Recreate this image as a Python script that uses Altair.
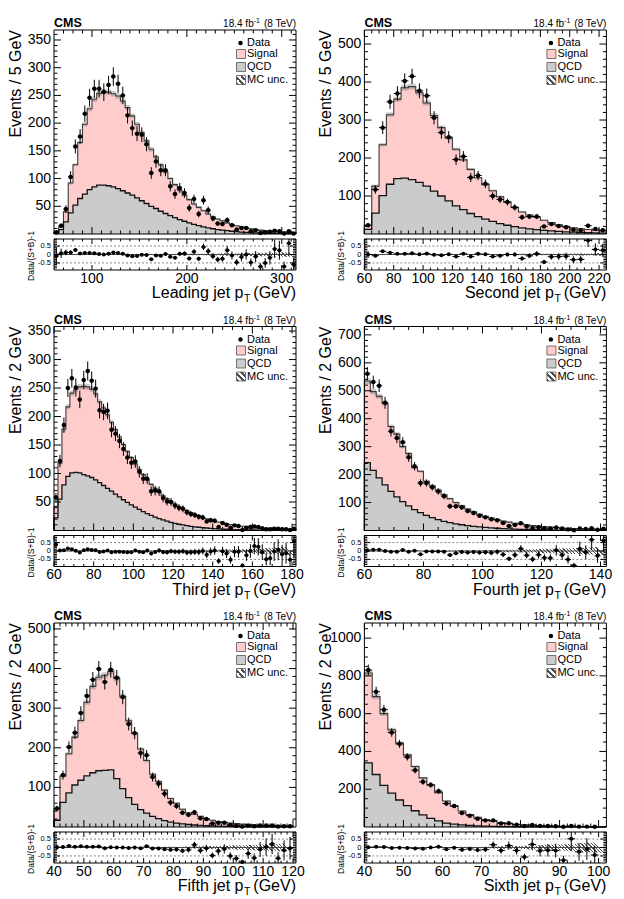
import altair as alt
import numpy as np
import pandas as pd

FONT = "Liberation Sans"
PINK = "#ffcccc"
GREY = "#cbcbcb"
INK = "#000000"

PW = 242            # pad width
MH = 204            # height of the distribution pad
RT, RB = 209, 240   # top / bottom of the ratio pad
RLIM = 0.92         # ratio pad spans [-RLIM, RLIM]

ONE = pd.DataFrame({"a": [0]})

# ---------------- leading jet (5 GeV bins from 60) ----------------
LEAD_TOTAL = [3.3, 14, 40, 92, 125, 165, 198, 226, 243, 254, 257, 256, 253, 249, 240, 228, 213, 198, 183, 168,
              153, 139, 125, 112, 100, 89, 79, 70, 62, 54, 48, 42, 36, 31, 27, 24, 20, 17, 15, 13,
              11, 9.5, 8, 7, 6, 5, 4.5, 4, 3.5, 3, 2.5]
LEAD_QCD = [1.5, 8, 22, 38, 52, 64, 72, 80, 85, 88, 88, 87, 85, 82, 78, 74, 70, 65, 60, 55,
            50, 46, 41, 37, 33, 29.5, 26, 23, 20, 17.5, 15, 13, 11, 9.5, 8, 7, 6, 5, 4.2, 3.5,
            3, 2.5, 2, 1.8, 1.5, 1.3, 1.1, 1, 0.9, 0.8, 0.7]
LEAD_DATA = [3, 15, 45, 103, 158, 176, 217, 246, 262, 262, 256, 269, 284, 271, 250, 214, 191, 181, 179, 162,
             110, 131, 115, 115, 86, 72, 83, 74, 47, 63, 36, 61, 43, 28, 19, 18, 25, 16, 8, 11,
             11, 5, 7, 2, 3, 4, 6, 5, 1, 5, 1]
LEAD_UNC = [0.06, 0.04, 0.03, 0.03, 0.02, 0.02, 0.02, 0.02, 0.02, 0.02, 0.02, 0.02, 0.02, 0.02, 0.02, 0.02,
            0.02, 0.02, 0.02, 0.02, 0.03, 0.03, 0.03, 0.03, 0.03, 0.03, 0.04, 0.04, 0.04, 0.05, 0.05, 0.05,
            0.06, 0.06, 0.06, 0.07, 0.07, 0.08, 0.08, 0.08, 0.09, 0.09, 0.10, 0.10, 0.11, 0.11, 0.12, 0.12,
            0.13, 0.14, 0.15]

# ---------------- second jet (5 GeV bins from 60) ----------------
SEC_TOTAL = [23, 126, 235, 314, 355, 385, 388, 372, 345, 312, 280, 253, 223, 195, 170, 148, 130, 114, 98, 84,
             70, 58, 50, 44, 36, 30, 24, 20, 16, 14, 12, 10, 8]
SEC_QCD = [12, 55, 101, 131, 146, 147, 143, 136, 126, 113, 100, 87, 74, 64, 54, 46, 39, 33, 27.5, 23,
           19.5, 16, 13.5, 11.5, 9.5, 8, 6.7, 5.6, 4.7, 4, 3.3, 2.8, 2.3]
SEC_DATA = [23, 117, 280, 348, 370, 403, 415, 377, 364, 306, 267, 255, 196, 204, 149, 154, 132, 100, 91, 84,
            70, 44, 46, 46, 20, 26, 21, 18, 11, 10, 22, 13, 10]
SEC_UNC = [0.05, 0.03, 0.02, 0.02, 0.02, 0.02, 0.02, 0.02, 0.02, 0.02, 0.02, 0.02, 0.02, 0.02, 0.02, 0.02,
           0.03, 0.03, 0.03, 0.03, 0.03, 0.04, 0.04, 0.04, 0.04, 0.05, 0.05, 0.05, 0.06, 0.06, 0.06, 0.07, 0.07]

# ---------------- third jet (2 GeV bins from 60) ----------------
THIRD_TOTAL = [42, 118, 178, 217, 241, 248, 252, 253, 252, 248, 240, 226, 215, 203, 190, 177, 164, 151, 139, 128,
               117, 107, 98, 89, 81, 74, 67, 61, 55.5, 50.5, 46, 42, 38.5, 35, 31.5, 28.5, 25.5, 23, 20.5, 18.5,
               16.5, 14.8, 13.2, 11.8, 10.5, 9.4, 8.4, 7.5, 6.7, 6, 5.4, 4.8, 4.3, 3.9, 3.5, 3.1, 2.8, 2.5, 2.3, 2.1,
               1.9]
THIRD_QCD = [22, 55, 80, 95, 101, 102, 101, 98, 96, 93, 89, 84, 79, 74, 69, 64, 59, 54, 49.5, 45,
             41, 37, 33, 29.5, 26.5, 23.5, 21, 18.5, 16.3, 14.3, 12.6, 11, 9.7, 8.5, 7.4, 6.5, 5.7, 5, 4.4, 3.8,
             3.3, 2.9, 2.5, 2.2, 1.9, 1.7, 1.5, 1.3, 1.1, 1, 0.9, 0.8, 0.7, 0.6, 0.55, 0.5, 0.45, 0.4, 0.35, 0.3,
             0.3]
THIRD_DATA = [58, 122, 185, 250, 267, 251, 230, 264, 280, 263, 249, 211, 208, 210, 177, 170, 157, 143, 128, 119,
              121, 103, 91, 91, 69, 70, 69, 57, 51, 50, 44, 40, 38, 32, 29, 27, 24, 23, 16, 18,
              17, 6, 13, 10, 5, 9, 8, 1, 5, 6, 7, 6, 4, 2, 2, 3, 3, 2, 2, 1,
              3]
THIRD_UNC = [0.05, 0.03, 0.03, 0.02, 0.02, 0.02, 0.02, 0.02, 0.02, 0.02, 0.02, 0.02, 0.02, 0.02, 0.02, 0.02,
             0.02, 0.02, 0.02, 0.02, 0.03, 0.03, 0.03, 0.03, 0.03, 0.03, 0.03, 0.03, 0.04, 0.04, 0.04, 0.04,
             0.05, 0.05, 0.05, 0.06, 0.06, 0.06, 0.07, 0.07, 0.08, 0.08, 0.09, 0.09, 0.10, 0.10, 0.11, 0.11,
             0.12, 0.13, 0.14, 0.15, 0.16, 0.17, 0.18, 0.19, 0.20, 0.22, 0.24, 0.26, 0.28]

# ---------------- fourth jet (2 GeV bins from 60) ----------------
FOURTH_TOTAL = [535, 497, 480, 455, 372, 345, 300, 275, 225, 212, 176, 160, 145, 128, 114, 100, 88, 77, 67, 58,
                51, 45, 39, 34, 30, 26, 23, 20, 17.5, 15.5, 13.5, 12, 10.5, 9.2, 8, 7, 6.2, 5.4, 4.8, 4.2,
                3.7]
FOURTH_QCD = [243, 215, 188, 163, 140, 120, 103, 88, 75, 64, 54, 46, 39, 33, 28, 24, 20.5, 17.5, 15, 12.8,
              11, 9.4, 8, 6.8, 5.8, 5, 4.3, 3.7, 3.2, 2.7, 2.3, 2, 1.7, 1.5, 1.3, 1.1, 1, 0.9, 0.8, 0.7,
              0.6]
FOURTH_DATA = [561, 531, 518, 457, 355, 331, 316, 262, 230, 170, 170, 155, 140, 123, 87, 87, 83, 70, 63, 53,
               47, 40, 37, 27, 16, 20, 26, 15, 9, 12, 8, 7, 11, 7, 4, 1, 7, 5, 8, 3,
               6]
FOURTH_UNC = [0.02, 0.02, 0.02, 0.02, 0.02, 0.02, 0.02, 0.02, 0.02, 0.02, 0.03, 0.03, 0.03, 0.03, 0.03, 0.04,
              0.04, 0.04, 0.05, 0.05, 0.05, 0.06, 0.06, 0.07, 0.07, 0.08, 0.09, 0.10, 0.11, 0.12, 0.13, 0.14,
              0.15, 0.16, 0.17, 0.18, 0.19, 0.20, 0.22, 0.24, 0.26]

# ---------------- fifth jet (2 GeV bins from 40) ----------------
FIFTH_TOTAL = [46, 128, 185, 227, 269, 315, 355, 378, 383, 393, 375, 330, 268, 236, 197, 168, 133, 115, 93, 72,
               60, 45, 36, 32, 27, 21, 17, 14, 12, 10, 8.5, 7.2, 6.2, 5.3, 4.5, 3.9, 3.3, 2.8, 2.4, 2.1]
FIFTH_QCD = [17, 62, 86, 106, 118, 129, 137, 142, 143, 144, 122, 97, 74, 57, 44, 35, 27, 21, 16, 12.5,
             10, 8, 6.3, 5, 4, 3.2, 2.6, 2.1, 1.7, 1.4, 1.1, 0.9, 0.75, 0.6, 0.5, 0.4, 0.35, 0.3, 0.25, 0.2]
FIFTH_DATA = [47, 131, 202, 238, 288, 331, 372, 399, 366, 397, 377, 328, 260, 237, 187, 181, 126, 109, 84, 62,
              53, 36, 31, 37, 22, 20, 9, 11, 11, 5, 3, 1, 4, 2, 4, 4, 4, 1, 2, 2]
FIFTH_UNC = [0.03, 0.02, 0.02, 0.02, 0.02, 0.02, 0.02, 0.02, 0.02, 0.02, 0.02, 0.02, 0.02, 0.02, 0.02, 0.03,
             0.03, 0.03, 0.04, 0.04, 0.05, 0.05, 0.06, 0.06, 0.07, 0.08, 0.09, 0.10, 0.11, 0.12, 0.13, 0.14,
             0.15, 0.16, 0.18, 0.20, 0.21, 0.22, 0.24, 0.26]

# ---------------- sixth jet (2 GeV bins from 40) ----------------
SIXTH_TOTAL = [815, 690, 600, 515, 445, 382, 320, 260, 222, 182, 138, 112, 85, 66, 52, 40, 30, 23, 18, 14.5,
               11.5, 9.3, 7.5, 6, 4.9, 4, 3.3, 2.7, 2.2, 1.8, 1.5]
SIXTH_QCD = [340, 278, 220, 179, 143, 113, 86, 64, 46, 32, 21, 15, 11, 8, 5.8, 4.2, 3.1, 2.3, 1.7, 1.3,
             1, 0.8, 0.6, 0.45, 0.35, 0.28, 0.22, 0.18, 0.14, 0.11, 0.09]
SIXTH_DATA = [831, 716, 621, 500, 440, 371, 301, 239, 223, 190, 124, 111, 74, 60, 44, 35, 35, 19, 20, 12,
              5, 11, 6, 5, 4, 1, 5, 2, 2, 1, 0]
SIXTH_UNC = [0.02, 0.02, 0.02, 0.02, 0.02, 0.02, 0.02, 0.02, 0.03, 0.03, 0.03, 0.03, 0.04, 0.04, 0.05, 0.05,
             0.06, 0.07, 0.08, 0.09, 0.10, 0.12, 0.14, 0.16, 0.18, 0.20, 0.22, 0.25, 0.28, 0.30, 0.32]

PANELS = [
    dict(xtitle="Leading jet p", ytitle="Events / 5 GeV", start=60, bw=5, xdom=[60, 315], ymax=368,
         total=LEAD_TOTAL, qcd=LEAD_QCD, data=LEAD_DATA, unc=LEAD_UNC,
         xmaj=[100, 200, 300], xstep=10, ymaj=[50, 100, 150, 200, 250, 300, 350], ystep=10),
    dict(xtitle="Second jet p", ytitle="Events / 5 GeV", start=60, bw=5, xdom=[60, 225], ymax=537,
         total=SEC_TOTAL, qcd=SEC_QCD, data=SEC_DATA, unc=SEC_UNC,
         xmaj=[60, 80, 100, 120, 140, 160, 180, 200, 220], xstep=5, ymaj=[100, 200, 300, 400, 500], ystep=20),
    dict(xtitle="Third jet p", ytitle="Events / 2 GeV", start=60, bw=2, xdom=[60, 182], ymax=358,
         total=THIRD_TOTAL, qcd=THIRD_QCD, data=THIRD_DATA, unc=THIRD_UNC,
         xmaj=[60, 80, 100, 120, 140, 160, 180], xstep=5, ymaj=[50, 100, 150, 200, 250, 300, 350], ystep=10),
    dict(xtitle="Fourth jet p", ytitle="Events / 2 GeV", start=60, bw=2, xdom=[60, 142], ymax=730,
         total=FOURTH_TOTAL, qcd=FOURTH_QCD, data=FOURTH_DATA, unc=FOURTH_UNC,
         xmaj=[60, 80, 100, 120, 140], xstep=5, ymaj=[100, 200, 300, 400, 500, 600, 700], ystep=20),
    dict(xtitle="Fifth jet p", ytitle="Events / 2 GeV", start=40, bw=2, xdom=[40, 121], ymax=515,
         total=FIFTH_TOTAL, qcd=FIFTH_QCD, data=FIFTH_DATA, unc=FIFTH_UNC,
         xmaj=[40, 50, 60, 70, 80, 90, 100, 110, 120], xstep=2, ymaj=[100, 200, 300, 400, 500], ystep=20),
    dict(xtitle="Sixth jet p", ytitle="Events / 2 GeV", start=40, bw=2, xdom=[40, 102], ymax=1080,
         total=SIXTH_TOTAL, qcd=SIXTH_QCD, data=SIXTH_DATA, unc=SIXTH_UNC,
         xmaj=[40, 50, 60, 70, 80, 90, 100], xstep=2, ymaj=[200, 400, 600, 800, 1000], ystep=50),
]

RATIO_MAJ = [0.5, 0.0, -0.5]
RATIO_LAB = ["0.5", "0", "-0.5"]


def minor_vals(lo, hi, step, majors):
    vals = np.arange(lo, hi + 1e-9, step)
    return [float(v) for v in vals
            if lo < v < hi and min(abs(v - m) for m in majors) > 1e-6]


def hatch(width_px, height_px, spacing=3.4, duty=0.38, dark="#4d4d4d"):
    n = max(2, int(round(width_px / spacing)))
    clear = "rgba(255,255,255,0)"
    stops = []
    for k in range(n):
        a, b, c = k / n, min(1.0, (k + duty) / n), min(1.0, (k + 1) / n)
        stops += [alt.GradientStop(color=dark, offset=a), alt.GradientStop(color=dark, offset=b),
                  alt.GradientStop(color=clear, offset=b), alt.GradientStop(color=clear, offset=c)]
    return alt.LinearGradient(gradient="linear", stops=stops,
                              x1=0, y1=1, x2=1, y2=1 - height_px / max(width_px, 1))


def text(t, x, y, size, align="left", baseline="alphabetic", weight="normal", angle=0):
    return alt.Chart(ONE).mark_text(text=t, font=FONT, fontSize=size, align=align, baseline=baseline,
                                    fontWeight=weight, angle=angle, color=INK).encode(
        x=alt.value(x), y=alt.value(y))


def make_panel(p, anchor=False):
    n = len(p["total"])
    for key in ("qcd", "data", "unc"):
        assert len(p[key]) == n, (p["xtitle"], key, len(p[key]), n)
    bw = p["bw"]
    lo = p["start"] + bw * np.arange(n, dtype=float)
    hi = lo + bw
    total = np.array(p["total"], float)
    qcd = np.array(p["qcd"], float)
    data = np.array(p["data"], float)
    unc = np.array(p["unc"], float)
    err = np.sqrt(data)

    df = pd.DataFrame({
        "lo": lo, "hi": hi, "mid": lo + bw / 2,
        "data": data, "dlo": data - err, "dhi": data + err,
        "r": data / total - 1, "rlo": (data - err) / total - 1, "rhi": (data + err) / total - 1,
    })

    # bin edges with the last bin repeated, for step-after areas
    edges = np.append(lo, hi[-1])

    def ext(a):
        return np.append(a, a[-1])

    steps = pd.DataFrame({
        "x": edges, "z": 0.0, "total": ext(total), "qcd": ext(qcd),
        "ulo": ext(total * (1 - unc)), "uhi": ext(total * (1 + unc)),
        "u": ext(unc), "d": -ext(unc),
    })

    def outline(vals):
        xs = [lo[0]] + list(lo) + [hi[-1], hi[-1]]
        ys = [0.0] + list(vals) + [vals[-1], 0.0]
        return pd.DataFrame({"x": xs, "y": ys, "k": range(len(xs))})

    xs = alt.Scale(domain=p["xdom"], nice=False, zero=False)
    ym = alt.Scale(domain=[0, p["ymax"]], range=[MH, 0], nice=False, zero=False)
    yr = alt.Scale(domain=[-RLIM, RLIM], range=[RB, RT], nice=False, zero=False, clamp=True)

    def X(f):
        return alt.X(f, type="quantitative", scale=xs, axis=None)

    def YM(f):
        return alt.Y(f, type="quantitative", scale=ym, axis=None)

    def YR(f):
        return alt.Y(f, type="quantitative", scale=yr, axis=None)

    base = alt.Chart(df)
    obs = base.transform_filter("datum.data > 0")
    st = alt.Chart(steps)
    L = []

    # ---- distribution pad ----
    L.append(st.mark_area(interpolate="step-after", fill=PINK).encode(x=X("x"), y=YM("total"), y2="z"))
    L.append(st.mark_area(interpolate="step-after", fill=GREY).encode(x=X("x"), y=YM("qcd"), y2="z"))
    L.append(st.mark_area(interpolate="step-after", fill="#6e6e6e", opacity=0.35)
             .encode(x=X("x"), y=YM("ulo"), y2="uhi"))
    L.append(alt.Chart(outline(total)).mark_line(interpolate="step-after", color="#3a3a3a", strokeWidth=1.1)
             .encode(x=X("x"), y=YM("y"), order="k:Q"))
    L.append(alt.Chart(outline(qcd)).mark_line(interpolate="step-after", color="#111111", strokeWidth=1.3)
             .encode(x=X("x"), y=YM("y"), order="k:Q"))
    L.append(obs.mark_rule(color=INK, strokeWidth=1).encode(x=X("mid"), y=YM("dlo"), y2="dhi"))
    L.append(obs.mark_rule(color=INK, strokeWidth=1).encode(x=X("lo"), x2="hi", y=YM("data")))
    L.append(obs.mark_circle(color=INK, opacity=1, size=20).encode(x=X("mid"), y=YM("data")))

    # legend
    L.append(alt.Chart(ONE).mark_circle(color=INK, opacity=1, size=20).encode(x=alt.value(186.5), y=alt.value(13)))
    for col, yc in ((PINK, 24), (GREY, 37)):
        L.append(alt.Chart(ONE).mark_rect(fill=col, stroke="#555555", strokeWidth=0.8).encode(
            x=alt.value(182.5), x2=alt.value(191.5), y=alt.value(yc - 4.5), y2=alt.value(yc + 4.5)))
    L.append(alt.Chart(ONE).mark_rect(fill=hatch(9, 9, spacing=3.0, duty=0.45), stroke="#555555",
                                      strokeWidth=0.8).encode(
        x=alt.value(182.5), x2=alt.value(191.5), y=alt.value(45.5), y2=alt.value(54.5)))
    for t, yc in (("Data", 13), ("Signal", 24), ("QCD", 37), ("MC unc.", 50)):
        L.append(text(t, 193, yc, 11, baseline="middle"))

    # ---- ratio pad ----
    x0 = (lo[0] - p["xdom"][0]) / (p["xdom"][1] - p["xdom"][0]) * PW
    x1 = (hi[-1] - p["xdom"][0]) / (p["xdom"][1] - p["xdom"][0]) * PW
    hpx = 2 * unc.max() * (RB - RT) / (2 * RLIM)
    L.append(st.mark_area(interpolate="step-after", fill=hatch(x1 - x0, hpx), line=False)
             .encode(x=X("x"), y=YR("d"), y2="u"))
    L.append(alt.Chart(pd.DataFrame({"v": [0.0]})).mark_rule(color="#3c3c3c", strokeWidth=0.9)
             .encode(y=YR("v"), x=alt.value(0), x2=alt.value(PW)))
    L.append(alt.Chart(pd.DataFrame({"v": [-0.5, 0.5]})).mark_rule(color="#6a6a6a", strokeWidth=0.8,
                                                                    strokeDash=[2, 2])
             .encode(y=YR("v"), x=alt.value(0), x2=alt.value(PW)))
    inr = obs.transform_filter("abs(datum.r) < %g" % RLIM)
    L.append(obs.mark_rule(color=INK, strokeWidth=1).encode(x=X("mid"), y=YR("rlo"), y2="rhi"))
    L.append(inr.mark_rule(color=INK, strokeWidth=1).encode(x=X("lo"), x2="hi", y=YR("r")))
    L.append(inr.mark_circle(color=INK, opacity=1, size=16).encode(x=X("mid"), y=YR("r")))

    # ---- ticks on all four sides of both pads ----
    xmin = minor_vals(p["xdom"][0], p["xdom"][1], p["xstep"], p["xmaj"])
    ymin = minor_vals(0, p["ymax"], p["ystep"], p["ymaj"])
    rmin = minor_vals(-0.9, 0.9, 0.1, RATIO_MAJ)

    def xt(vals, ya, yb):
        return alt.Chart(pd.DataFrame({"v": vals})).mark_rule(color=INK, strokeWidth=1).encode(
            x=X("v"), y=alt.value(ya), y2=alt.value(yb))

    def yt(vals, Y, xa, xb):
        return alt.Chart(pd.DataFrame({"v": vals})).mark_rule(color=INK, strokeWidth=1).encode(
            y=Y("v"), x=alt.value(xa), x2=alt.value(xb))

    L += [xt(p["xmaj"], MH, MH - 7), xt(xmin, MH, MH - 3.5), xt(p["xmaj"], 0, 7), xt(xmin, 0, 3.5),
          xt(p["xmaj"], RB, RB - 5), xt(xmin, RB, RB - 2.5), xt(p["xmaj"], RT, RT + 5), xt(xmin, RT, RT + 2.5),
          yt(p["ymaj"], YM, 0, 7), yt(ymin, YM, 0, 3.5), yt(p["ymaj"], YM, PW, PW - 7), yt(ymin, YM, PW, PW - 3.5),
          yt(RATIO_MAJ, YR, 0, 6), yt(rmin, YR, 0, 3), yt(RATIO_MAJ, YR, PW, PW - 6), yt(rmin, YR, PW, PW - 3)]

    # frames
    for ya, yb in ((0, MH), (RT, RB)):
        L.append(alt.Chart(ONE).mark_rect(fillOpacity=0, stroke=INK, strokeWidth=1).encode(
            x=alt.value(0), x2=alt.value(PW), y=alt.value(ya), y2=alt.value(yb)))

    # ---- tick labels and titles ----
    L.append(alt.Chart(pd.DataFrame({"v": p["ymaj"], "t": [str(v) for v in p["ymaj"]]}))
             .mark_text(font=FONT, fontSize=14, align="right", baseline="middle", color=INK)
             .encode(y=YM("v"), x=alt.value(-3), text="t:N"))
    L.append(alt.Chart(pd.DataFrame({"v": RATIO_MAJ, "t": RATIO_LAB}))
             .mark_text(font=FONT, fontSize=7.5, align="right", baseline="middle", color=INK)
             .encode(y=YR("v"), x=alt.value(-3), text="t:N"))
    L.append(alt.Chart(pd.DataFrame({"v": p["xmaj"], "t": [str(v) for v in p["xmaj"]]}))
             .mark_text(font=FONT, fontSize=14, align="center", baseline="top", color=INK)
             .encode(x=X("v"), y=alt.value(RB + 1.5), text="t:N"))

    L.append(text(p["ytitle"], -33.5, 0, 16, align="right", angle=270))
    L.append(text("Data/(S+B)-1", -20, 226, 8.5, align="center", angle=270))
    L.append(text(p["xtitle"], PW - 52.5, RB + 28, 16, align="right"))
    L.append(text("T", PW - 52, RB + 32, 10.5))
    L.append(text("(GeV)", PW, RB + 28, 16, align="right"))

    L.append(text("CMS", 0, -3, 12.5, weight="bold"))
    L.append(text("(8 TeV)", PW, -3, 10, align="right"))
    L.append(text("-1", PW - 36.1, -7, 7, align="right"))
    L.append(text("18.4 fb", PW - 42.3, -3, 10, align="right"))

    if anchor:
        L.append(alt.Chart(ONE).mark_rect(opacity=0).encode(
            x=alt.value(-53.3), x2=alt.value(-52.3), y=alt.value(-29.5), y2=alt.value(-28.5)))

    return alt.layer(*L).resolve_scale(y="independent").properties(width=PW, height=RB)


charts = [make_panel(p, anchor=(i == 0)) for i, p in enumerate(PANELS)]

chart = alt.concat(*charts, columns=2, spacing={"row": 56.5, "column": 68.4}, bounds="flush").properties(
    padding=0, background="white"
).configure_view(stroke=None)

chart.save("out.html", embed_options={"renderer": "svg", "actions": False})
